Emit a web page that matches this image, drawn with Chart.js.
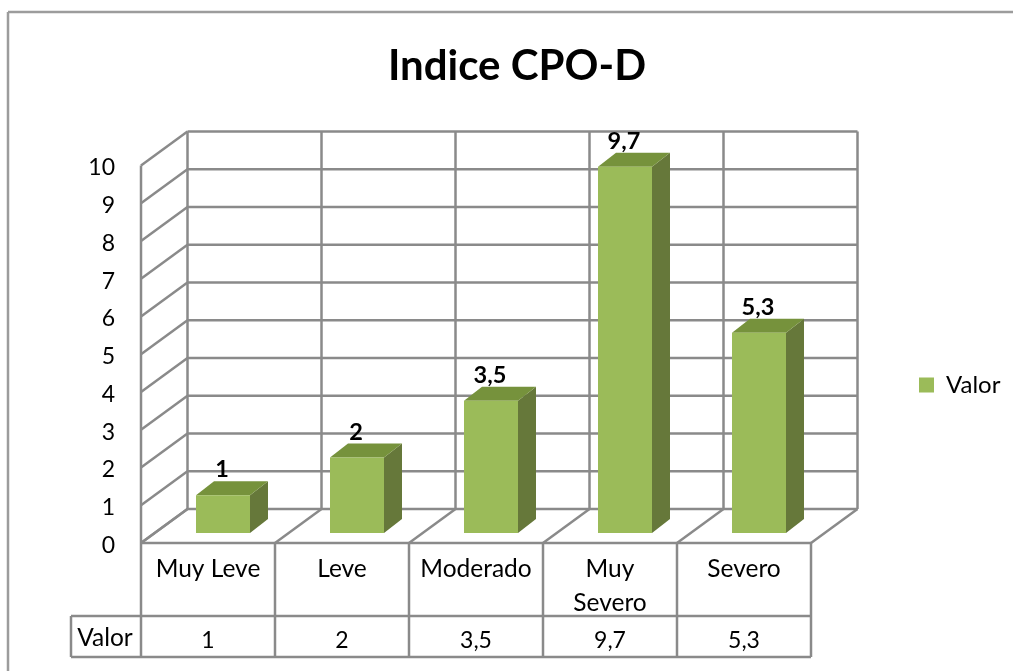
<!DOCTYPE html>
<html>
<head>
<meta charset="utf-8">
<title>Indice CPO-D</title>
<style>
  html, body { margin: 0; padding: 0; background: #fff; overflow: hidden; }
  canvas { display: block; }
</style>
<script src="https://cdn.jsdelivr.net/npm/chart.js@4"></script>
</head>
<body>
<canvas id="Chart" width="1013" height="671"></canvas>
<script>
const chartTitle = "Indice CPO-D"
const seriesName = "Valor"
const categories = ["Muy Leve", "Leve", "Moderado", ["Muy", "Severo"], "Severo"]
const values = [1, 2, 3.5, 9.7, 5.3]
const valueLabels = ["1", "2", "3,5", "9,7", "5,3"]

const FONT = "Lato, 'Noto Sans', sans-serif"
const GRID = "#8a8a8a"
const OUTER = "#9c9c9c"
const FRONT = "#9bbb59"
const TOP = "#76923c"
const SIDE = "#66783a"

// 3d offsets of the back wall and of the bar box
const wall = { x: 46.5, y: -34 }
const shift = { x: 15, y: -10 }
const depth = { x: 18, y: -14 }

function line(ctx, x1, y1, x2, y2) {
    ctx.beginPath()
    ctx.moveTo(x1, y1)
    ctx.lineTo(x2, y2)
    ctx.stroke()
}

function face(ctx, color, pts) {
    ctx.fillStyle = color
    ctx.beginPath()
    pts.forEach((p, i) => i ? ctx.lineTo(p[0], p[1]) : ctx.moveTo(p[0], p[1]))
    ctx.closePath()
    ctx.fill()
}

// walls, floor, data table and outer frame
const frame3d = {
    id: "frame3d",
    afterLayout(chart) {
        // move the legend and title where the chart layout cannot put them
        const legend = chart.legend
        const w = legend.width, h = legend.height
        legend.left = 909; legend.right = 909 + w
        legend.top = 385 - h / 2; legend.bottom = legend.top + h
        chart.titleBlock.left = 21
        chart.titleBlock.right = 1013
        chart.titleBlock.width = 992

        // tick labels sit a bit lower than lato's middle
        chart.scales.y.getLabelItems(chart.chartArea).forEach(item => {
            item.options.translation[1] += 2.5
        })
    },
    beforeDraw(chart) {
        const { ctx, chartArea: area, scales: { x, y } } = chart

        ctx.save()
        ctx.lineWidth = 2.5

        // outer frame, cut by the picture on the right and at the bottom
        ctx.strokeStyle = OUTER
        line(ctx, 8, 12, 8, 671)
        line(ctx, 8, 12, 1013, 12)

        ctx.strokeStyle = GRID
        // horizontal lines over side and back wall
        y.ticks.forEach(t => {
            const py = y.getPixelForValue(t.value)
            line(ctx, area.left, py, area.left + wall.x, py + wall.y)
            line(ctx, area.left + wall.x, py + wall.y, area.right + wall.x, py + wall.y)
        })
        line(ctx, area.left, area.top, area.left, area.bottom)

        // column edges on back wall and floor
        const step = (area.right - area.left) / categories.length
        for (let i = 0; i <= categories.length; i++) {
            const px = area.left + step * i
            line(ctx, px + wall.x, area.top + wall.y, px + wall.x, area.bottom + wall.y)
            line(ctx, px, area.bottom, px + wall.x, area.bottom + wall.y)
            line(ctx, px, area.bottom, px, 657)
        }
        line(ctx, area.left, area.bottom, area.right, area.bottom)

        // data table
        line(ctx, 71, 616, area.right, 616)
        line(ctx, 71, 657, area.right, 657)
        line(ctx, 71, 616, 71, 657)

        ctx.fillStyle = "#000"
        ctx.textAlign = "center"
        ctx.textBaseline = "middle"
        ctx.font = "24.5px " + FONT
        ctx.fillText(seriesName, 105, 638)
        ctx.font = "23px " + FONT
        valueLabels.forEach((v, i) => ctx.fillText(v, x.getPixelForValue(i), 641))
        ctx.restore()
    },
    beforeDatasetsDraw(chart) {
        const { ctx } = chart
        ctx.save()
        ctx.translate(shift.x, shift.y)
        chart.getDatasetMeta(0).data.forEach(bar => {
            const l = bar.x - bar.width / 2, r = bar.x + bar.width / 2
            face(ctx, SIDE, [[r, bar.y], [r + depth.x, bar.y + depth.y], [r + depth.x, bar.base + depth.y], [r, bar.base]])
            face(ctx, TOP, [[l, bar.y], [l + depth.x, bar.y + depth.y], [r + depth.x, bar.y + depth.y], [r, bar.y]])
        })
    },
    afterDatasetsDraw(chart) {
        const { ctx } = chart
        ctx.restore()
        ctx.save()
        ctx.fillStyle = "#000"
        ctx.font = "bold 23.5px " + FONT
        ctx.textAlign = "center"
        ctx.textBaseline = "middle"
        chart.getDatasetMeta(0).data.forEach((bar, i) => {
            ctx.fillText(valueLabels[i], bar.x + shift.x - 1, bar.y + shift.y - 25.5)
        })
        ctx.restore()
    }
}

const ctx = document.getElementById("Chart").getContext("2d")
const myChart = new Chart(ctx, {
    type: "bar",
    data: {
        labels: categories,
        datasets: [{
            label: seriesName,
            data: values,
            backgroundColor: FRONT,
            barPercentage: 0.403,
            categoryPercentage: 1,
            clip: false
        }]
    },
    options: {
        responsive: false,
        animation: false,
        layout: { padding: { left: 22, right: 202, top: 0, bottom: 0 } },
        plugins: {
            title: {
                display: true,
                text: chartTitle,
                color: "#000",
                font: { family: FONT, size: 42, weight: "bold", lineHeight: 1.2 },
                padding: { top: 41, bottom: 74 }
            },
            legend: {
                position: "chartArea",
                labels: { boxWidth: 15, boxHeight: 15, color: "#000", padding: 10, font: { family: FONT, size: 24 } }
            },
            tooltip: { enabled: false }
        },
        scales: {
            x: {
                grid: { display: false },
                border: { display: false },
                ticks: { color: "#000", padding: 2, maxRotation: 0, autoSkip: false, font: { family: FONT, size: 24.5, lineHeight: 1.35 } },
                afterFit(scale) { scale.height = 128 }
            },
            y: {
                min: 0,
                max: 10,
                grid: { display: false, drawTicks: false },
                border: { display: false },
                ticks: { stepSize: 1, color: "#000", padding: 26, font: { family: FONT, size: 23 } },
                afterFit(scale) { scale.width = 119 }
            }
        }
    },
    plugins: [frame3d]
})
</script>
</body>
</html>
